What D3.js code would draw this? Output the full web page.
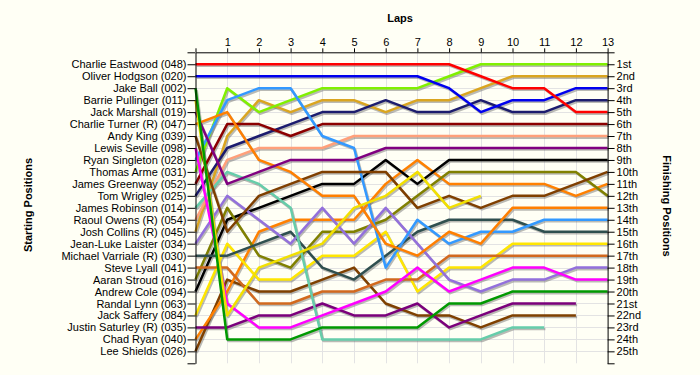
<!DOCTYPE html>
<html>
<head>
<meta charset="utf-8">
<script src="https://cdn.jsdelivr.net/npm/d3@7"></script>
<style>
    body { margin: 0; background: #fffff5; }
    svg text { font-family: "Liberation Sans", Arial, sans-serif; }
</style>
</head>
<body>
<div id="chart"></div>
<script>
// Grid order (starting positions)
var startLabels = ["Charlie Eastwood (048)", "Oliver Hodgson (020)", "Jake Ball (002)", "Barrie Pullinger (011)",
    "Jack Marshall (019)", "Charlie Turner (R) (047)", "Andy King (039)", "Lewis Seville (098)",
    "Ryan Singleton (028)", "Thomas Arme (031)", "James Greenway (052)", "Tom Wrigley (025)",
    "James Robinson (014)", "Raoul Owens  (R) (054)", "Josh Collins (R) (045)", "Jean-Luke Laister (034)",
    "Michael Varriale (R) (030)", "Steve Lyall (041)", "Aaran Stroud (016)", "Andrew Cole (094)",
    "Randal Lynn (063)", "Jack Saffery (084)", "Justin Saturley  (R) (035)", "Chad Ryan (040)", "Lee Shields (026)"];

var finishLabels = ["1st", "2nd", "3rd", "4th", "5th", "6th", "7th", "8th", "9th", "10th", "11th", "12th", "13th",
    "14th", "15th", "16th", "17th", "18th", "19th", "20th", "21st", "22nd", "23rd", "24th", "25th"];

var lapTicks = [0, 1, 2, 3, 4, 5, 6, 7, 8, 9, 10, 11, 12, 13];

var lineColors = ["#ff0000", "#0000ee", "#009900", "#f2e000", "#800080", "#ff7f00", "#7f3f00", "#ff00ff",
    "#3399ff", "#80f000", "#8b0000", "#1c1c6e", "#66cdaa", "#ffa07a", "#daa520", "#9370db",
    "#2f4f4f", "#d2691e", "#808000", "#000000", "#999999", "#ffe600", "#7b007b", "#ff8000", "#7f4000"];

// position of each driver at the end of laps 0..13 (shorter rows = retired)
var positions = [
    [1, 1, 1, 1, 1, 1, 1, 1, 1, 2, 3, 3, 5, 5],
    [2, 2, 2, 2, 2, 2, 2, 2, 3, 5, 4, 4, 3, 3],
    [3, 24, 24, 24, 23, 23, 23, 23, 21, 21, 20, 20, 20, 20],
    [4, 22, 18, 17, 16, 13, 12, 10, 13, 12],
    [5, 11, 10, 9, 9, 9, 8, 8, 8, 8, 8, 8, 8, 8],
    [6, 5, 9, 10, 12, 12, 16, 17, 15, 16, 13, 13, 13, 13],
    [7, 15, 12, 11, 10, 10, 10, 13, 12, 13, 12, 12, 11, 10],
    [8, 21, 23, 23, 22, 21, 20, 18, 20, 19, 18, 18, 19, 19],
    [9, 4, 3, 3, 7, 8, 18, 14, 16, 15, 15, 14, 14, 14],
    [10, 3, 5, 4, 3, 3, 3, 3, 2, 1, 1, 1, 1, 1],
    [11, 6, 6, 7, 6, 6, 6, 6, 6, 6, 6, 6, 6, 6],
    [12, 8, 7, 6, 5, 5, 4, 5, 5, 4, 5, 5, 4, 4],
    [13, 10, 11, 13, 24, 24, 24, 24, 24, 24, 23, 23],
    [14, 9, 8, 8, 8, 7, 7, 7, 7, 7, 7, 7, 7, 7],
    [15, 7, 4, 5, 4, 4, 5, 4, 4, 3, 2, 2, 2, 2],
    [16, 12, 14, 16, 13, 16, 13, 16, 19, 20, 19, 19, 18, 18],
    [17, 17, 16, 15, 18, 19, 17, 15, 14, 14, 14, 15, 15, 15],
    [18, 18, 21, 21, 20, 20, 19, 19, 17, 17, 17, 17, 17, 17],
    [19, 13, 17, 18, 15, 15, 14, 12, 10, 10, 10, 10, 10, 12],
    [20, 14, 13, 12, 11, 11, 9, 11, 9, 9, 9, 9, 9, 9],
    [],
    [22, 16, 19, 19, 17, 17, 15, 20, 18, 18, 16, 16, 16, 16],
    [23, 23, 22, 22, 21, 22, 22, 21, 23, 22, 21, 21, 21],
    [24, 20, 15, 14, 14, 14, 11, 9, 11, 11, 11, 11, 12, 11],
    [25, 19, 20, 20, 19, 18, 21, 22, 22, 23, 22, 22, 22]
];

var width = 700, height = 375;
var svg = d3.select("#chart").append("svg")
    .attr("width", width)
    .attr("height", height)
    .style("background", "#fffff5");

var x = d3.scaleLinear().domain([0, 13]).range([195.5, 607.6]);
var y = d3.scaleLinear().domain([0, 26]).range([52.3, 363.3]);

// grid
var grid = svg.append("g").attr("stroke", "#e3e3e3").attr("stroke-width", 1);
grid.selectAll("line.v").data(lapTicks.slice(1, 13)).enter().append("line")
    .attr("x1", function (d) { return Math.round(x(d)) + 0.5; })
    .attr("x2", function (d) { return Math.round(x(d)) + 0.5; })
    .attr("y1", y(0)).attr("y2", y(26));
grid.selectAll("line.h").data(d3.range(1, 26)).enter().append("line")
    .attr("x1", x(0)).attr("x2", x(13))
    .attr("y1", function (d) { return Math.round(y(d)) + 0.5; })
    .attr("y2", function (d) { return Math.round(y(d)) + 0.5; });

// lines
var line = d3.line()
    .x(function (d, i) { return x(i); })
    .y(function (d) { return y(d); });

var series = positions.map(function (p, i) { return {pos: p, color: lineColors[i]}; })
    .filter(function (s) { return s.pos.length > 1; });

svg.append("g").attr("transform", "translate(1.2,1.6)")
    .selectAll("path").data(series).enter().append("path")
    .attr("d", function (s) { return line(s.pos); })
    .attr("fill", "none")
    .attr("stroke", "#666")
    .attr("stroke-opacity", 0.45)
    .attr("stroke-width", 2.5)
    .attr("stroke-linejoin", "round");

svg.append("g")
    .selectAll("path").data(series.slice().reverse()).enter().append("path")
    .attr("d", function (s) { return line(s.pos); })
    .attr("fill", "none")
    .attr("stroke", function (s) { return s.color; })
    .attr("stroke-width", 2.5)
    .attr("stroke-linejoin", "round");

// axes
function styleAxis(g) {
    g.selectAll("text").attr("font-size", "11px").attr("fill", "#000")
        .style("font-family", "'Liberation Sans', Arial, sans-serif");
    g.selectAll("path, line").attr("stroke", "#000");
}

svg.append("g").attr("transform", "translate(0," + y(0) + ")")
    .call(d3.axisTop(x).tickValues(lapTicks).tickSize(4).tickPadding(2).tickSizeOuter(0)
        .tickFormat(function (d) { return d ? d : ""; }))
    .call(styleAxis);

svg.append("g").attr("transform", "translate(" + x(0) + ",0)")
    .call(d3.axisLeft(y).tickValues(d3.range(0, 27)).tickSize(8).tickPadding(1).tickSizeOuter(0)
        .tickFormat(function (d) { return startLabels[d - 1] || ""; }))
    .call(styleAxis);

svg.append("g").attr("transform", "translate(" + x(13) + ",0)")
    .call(d3.axisRight(y).tickValues(d3.range(0, 27)).tickSize(7).tickPadding(2).tickSizeOuter(0)
        .tickFormat(function (d) { return finishLabels[d - 1] || ""; }))
    .call(styleAxis);

// titles
svg.append("text").attr("x", 400).attr("y", 22).attr("text-anchor", "middle")
    .attr("font-size", "11px").attr("font-weight", "bold").text("Laps");
svg.append("text").attr("transform", "translate(31.5,205) rotate(-90)").attr("text-anchor", "middle")
    .attr("font-size", "11px").attr("font-weight", "bold").text("Starting Positions");
svg.append("text").attr("transform", "translate(662.5,206) rotate(90)").attr("text-anchor", "middle")
    .attr("font-size", "11px").attr("font-weight", "bold").text("Finishing Positions");
</script>
</body>
</html>
